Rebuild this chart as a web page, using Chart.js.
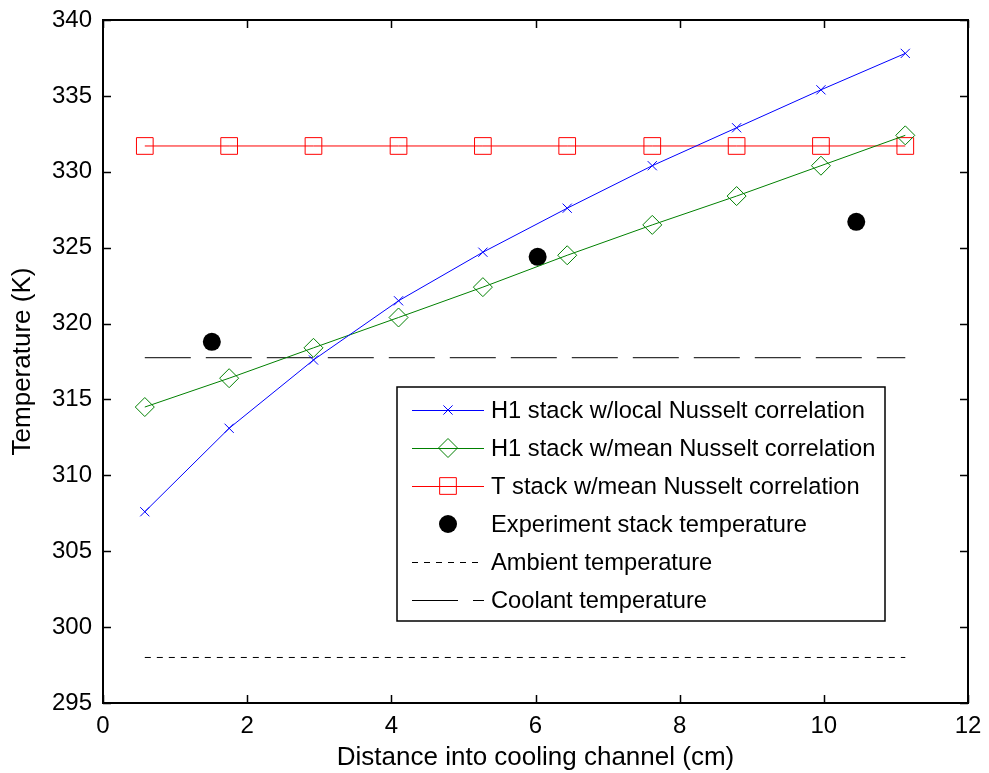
<!DOCTYPE html>
<html>
<head>
<meta charset="utf-8">
<script src="https://cdn.jsdelivr.net/npm/chart.js@4.4.1/dist/chart.umd.min.js"></script>
<style>
  html, body { margin: 0; padding: 0; background: #fff; }
  #wrap { width: 989px; height: 773px; }
</style>
</head>
<body>
<div id="wrap"><canvas id="tempChart" width="989" height="773"></canvas></div>
<script>
/* --- Data --- */
const distance = [0.58, 1.75, 2.92, 4.10, 5.27, 6.44, 7.62, 8.79, 9.96, 11.13];
const h1LocalNu = [307.6, 313.1, 317.6, 321.5, 324.7, 327.6, 330.4, 332.9, 335.4, 337.8];
const h1MeanNu = [314.5, 316.4, 318.4, 320.4, 322.4, 324.5, 326.5, 328.4, 330.4, 332.4];
const tMeanNu = [331.7, 331.7, 331.7, 331.7, 331.7, 331.7, 331.7, 331.7, 331.7, 331.7];
const expDistance = [1.51, 6.03, 10.45];
const expTemp = [318.8, 324.4, 326.7];
const ambientTemp = 298.0;
const coolantTemp = 317.75;
const xTicks = [0, 2, 4, 6, 8, 10, 12];
const yTicks = [295, 300, 305, 310, 315, 320, 325, 330, 335, 340];

const FONT = 'Liberation Sans, Arial, Helvetica, sans-serif';
const BLUE = 'rgb(0,0,255)';
const GREEN = 'rgb(0,128,0)';
const RED = 'rgb(255,0,0)';

const pts = (xs, ys) => xs.map((x, i) => ({ x, y: ys[i] }));
const flat = (v) => [{ x: distance[0], y: v }, { x: distance[distance.length - 1], y: v }];

const datasets = [
  { label: 'H1 stack w/local Nusselt correlation', data: pts(distance, h1LocalNu),
    borderColor: BLUE, pointBorderColor: BLUE, pointStyle: 'crossRot', pointRadius: 6.5, borderWidth: 1, pointBorderWidth: 1 },
  { label: 'H1 stack w/mean Nusselt correlation', data: pts(distance, h1MeanNu),
    borderColor: GREEN, pointBorderColor: GREEN, pointStyle: 'rectRot', pointRadius: 9.5, borderWidth: 1, pointBorderWidth: 1 },
  { label: 'T stack w/mean Nusselt correlation', data: pts(distance, tMeanNu),
    borderColor: RED, pointBorderColor: RED, pointStyle: 'rect', pointRadius: 11.8, borderWidth: 1, pointBorderWidth: 1 },
  { label: 'Experiment stack temperature', data: pts(expDistance, expTemp), showLine: false,
    pointBackgroundColor: '#000', pointBorderColor: '#000', pointStyle: 'circle', pointRadius: 9, pointBorderWidth: 0 },
  { label: 'Ambient temperature', data: flat(ambientTemp),
    borderColor: '#000', borderDash: [6, 6], borderWidth: 1, pointRadius: 0 },
  { label: 'Coolant temperature', data: flat(coolantTemp),
    borderColor: '#000', borderDash: [46, 15], borderWidth: 1, pointRadius: 0 }
];
datasets.forEach(d => { d.backgroundColor = d.pointBackgroundColor || 'rgba(0,0,0,0)'; if (d.showLine !== false) d.showLine = true; });

// inward ticks on all four sides + the axes box
const boxPlugin = {
  id: 'box',
  afterDraw(chart) {
    const { ctx, chartArea: a, scales: { x, y } } = chart;
    ctx.save();
    ctx.strokeStyle = '#000';
    ctx.lineWidth = 1.5;
    ctx.beginPath();
    xTicks.forEach(v => {
      const px = Math.round(x.getPixelForValue(v)) + 0.5;
      ctx.moveTo(px, a.bottom); ctx.lineTo(px, a.bottom - 8);
      ctx.moveTo(px, a.top); ctx.lineTo(px, a.top + 8);
    });
    yTicks.forEach(v => {
      const py = Math.round(y.getPixelForValue(v)) + 0.5;
      ctx.moveTo(a.left, py); ctx.lineTo(a.left + 8, py);
      ctx.moveTo(a.right, py); ctx.lineTo(a.right - 8, py);
    });
    ctx.stroke();
    ctx.lineWidth = 2;
    ctx.strokeRect(a.left, a.top, a.right - a.left, a.bottom - a.top);
    ctx.restore();
  }
};

// MATLAB style legend box inside the axes
const legendPlugin = {
  id: 'matLegend',
  afterDraw(chart) {
    const { ctx } = chart;
    const L = 397, T = 387, R = 885, B = 621;
    ctx.save();
    ctx.fillStyle = '#fff';
    ctx.fillRect(L, T, R - L, B - T);
    ctx.strokeStyle = '#000';
    ctx.lineWidth = 1.5;
    ctx.strokeRect(L, T, R - L, B - T);
    ctx.font = '23.7px ' + FONT;
    ctx.textBaseline = 'middle';
    chart.data.datasets.forEach((d, i) => {
      const cy = T + 23 + i * 38;
      if (d.showLine) {
        ctx.strokeStyle = d.borderColor;
        ctx.lineWidth = 1;
        ctx.setLineDash(d.borderDash || []);
        ctx.beginPath();
        ctx.moveTo(412, cy + 0.5); ctx.lineTo(484, cy + 0.5);
        ctx.stroke();
        ctx.setLineDash([]);
      }
      if (d.pointRadius > 0) {
        ctx.strokeStyle = d.pointBorderColor;
        ctx.fillStyle = d.backgroundColor;
        ctx.lineWidth = d.pointBorderWidth;
        Chart.helpers.drawPoint(ctx, { pointStyle: d.pointStyle, radius: d.pointRadius, rotation: 0, borderWidth: d.pointBorderWidth }, 448, cy);
      }
      ctx.fillStyle = '#000';
      ctx.fillText(d.label, 491, cy + 1);
    });
    ctx.restore();
  }
};

new Chart(document.getElementById('tempChart').getContext('2d'), {
  type: 'scatter',
  data: { datasets },
  plugins: [boxPlugin, legendPlugin],
  options: {
    responsive: false,
    animation: false,
    layout: { padding: { top: 20, right: 21, left: 0, bottom: 0 } },
    plugins: { legend: { display: false }, tooltip: { enabled: false } },
    scales: {
      x: {
        type: 'linear', min: 0, max: 12,
        afterFit: (s) => { s.height = 70; },
        afterBuildTicks: (s) => { s.ticks = xTicks.map(v => ({ value: v })); },
        grid: { display: false }, border: { display: false },
        ticks: { color: '#000', font: { family: FONT, size: 24 }, padding: 1, maxRotation: 0 },
        title: { display: true, text: 'Distance into cooling channel (cm)', color: '#000',
                 font: { family: FONT, size: 26 }, padding: { top: 0, bottom: 0 } }
      },
      y: {
        type: 'linear', min: 295, max: 340,
        afterFit: (s) => { s.width = 103; },
        afterBuildTicks: (s) => { s.ticks = yTicks.map(v => ({ value: v })); },
        grid: { display: false }, border: { display: false },
        ticks: { color: '#000', font: { family: FONT, size: 24 }, padding: 3 },
        title: { display: true, text: 'Temperature (K)', color: '#000',
                 font: { family: FONT, size: 26 }, padding: { top: 7, bottom: 0 } }
      }
    }
  }
});
</script>
</body>
</html>
